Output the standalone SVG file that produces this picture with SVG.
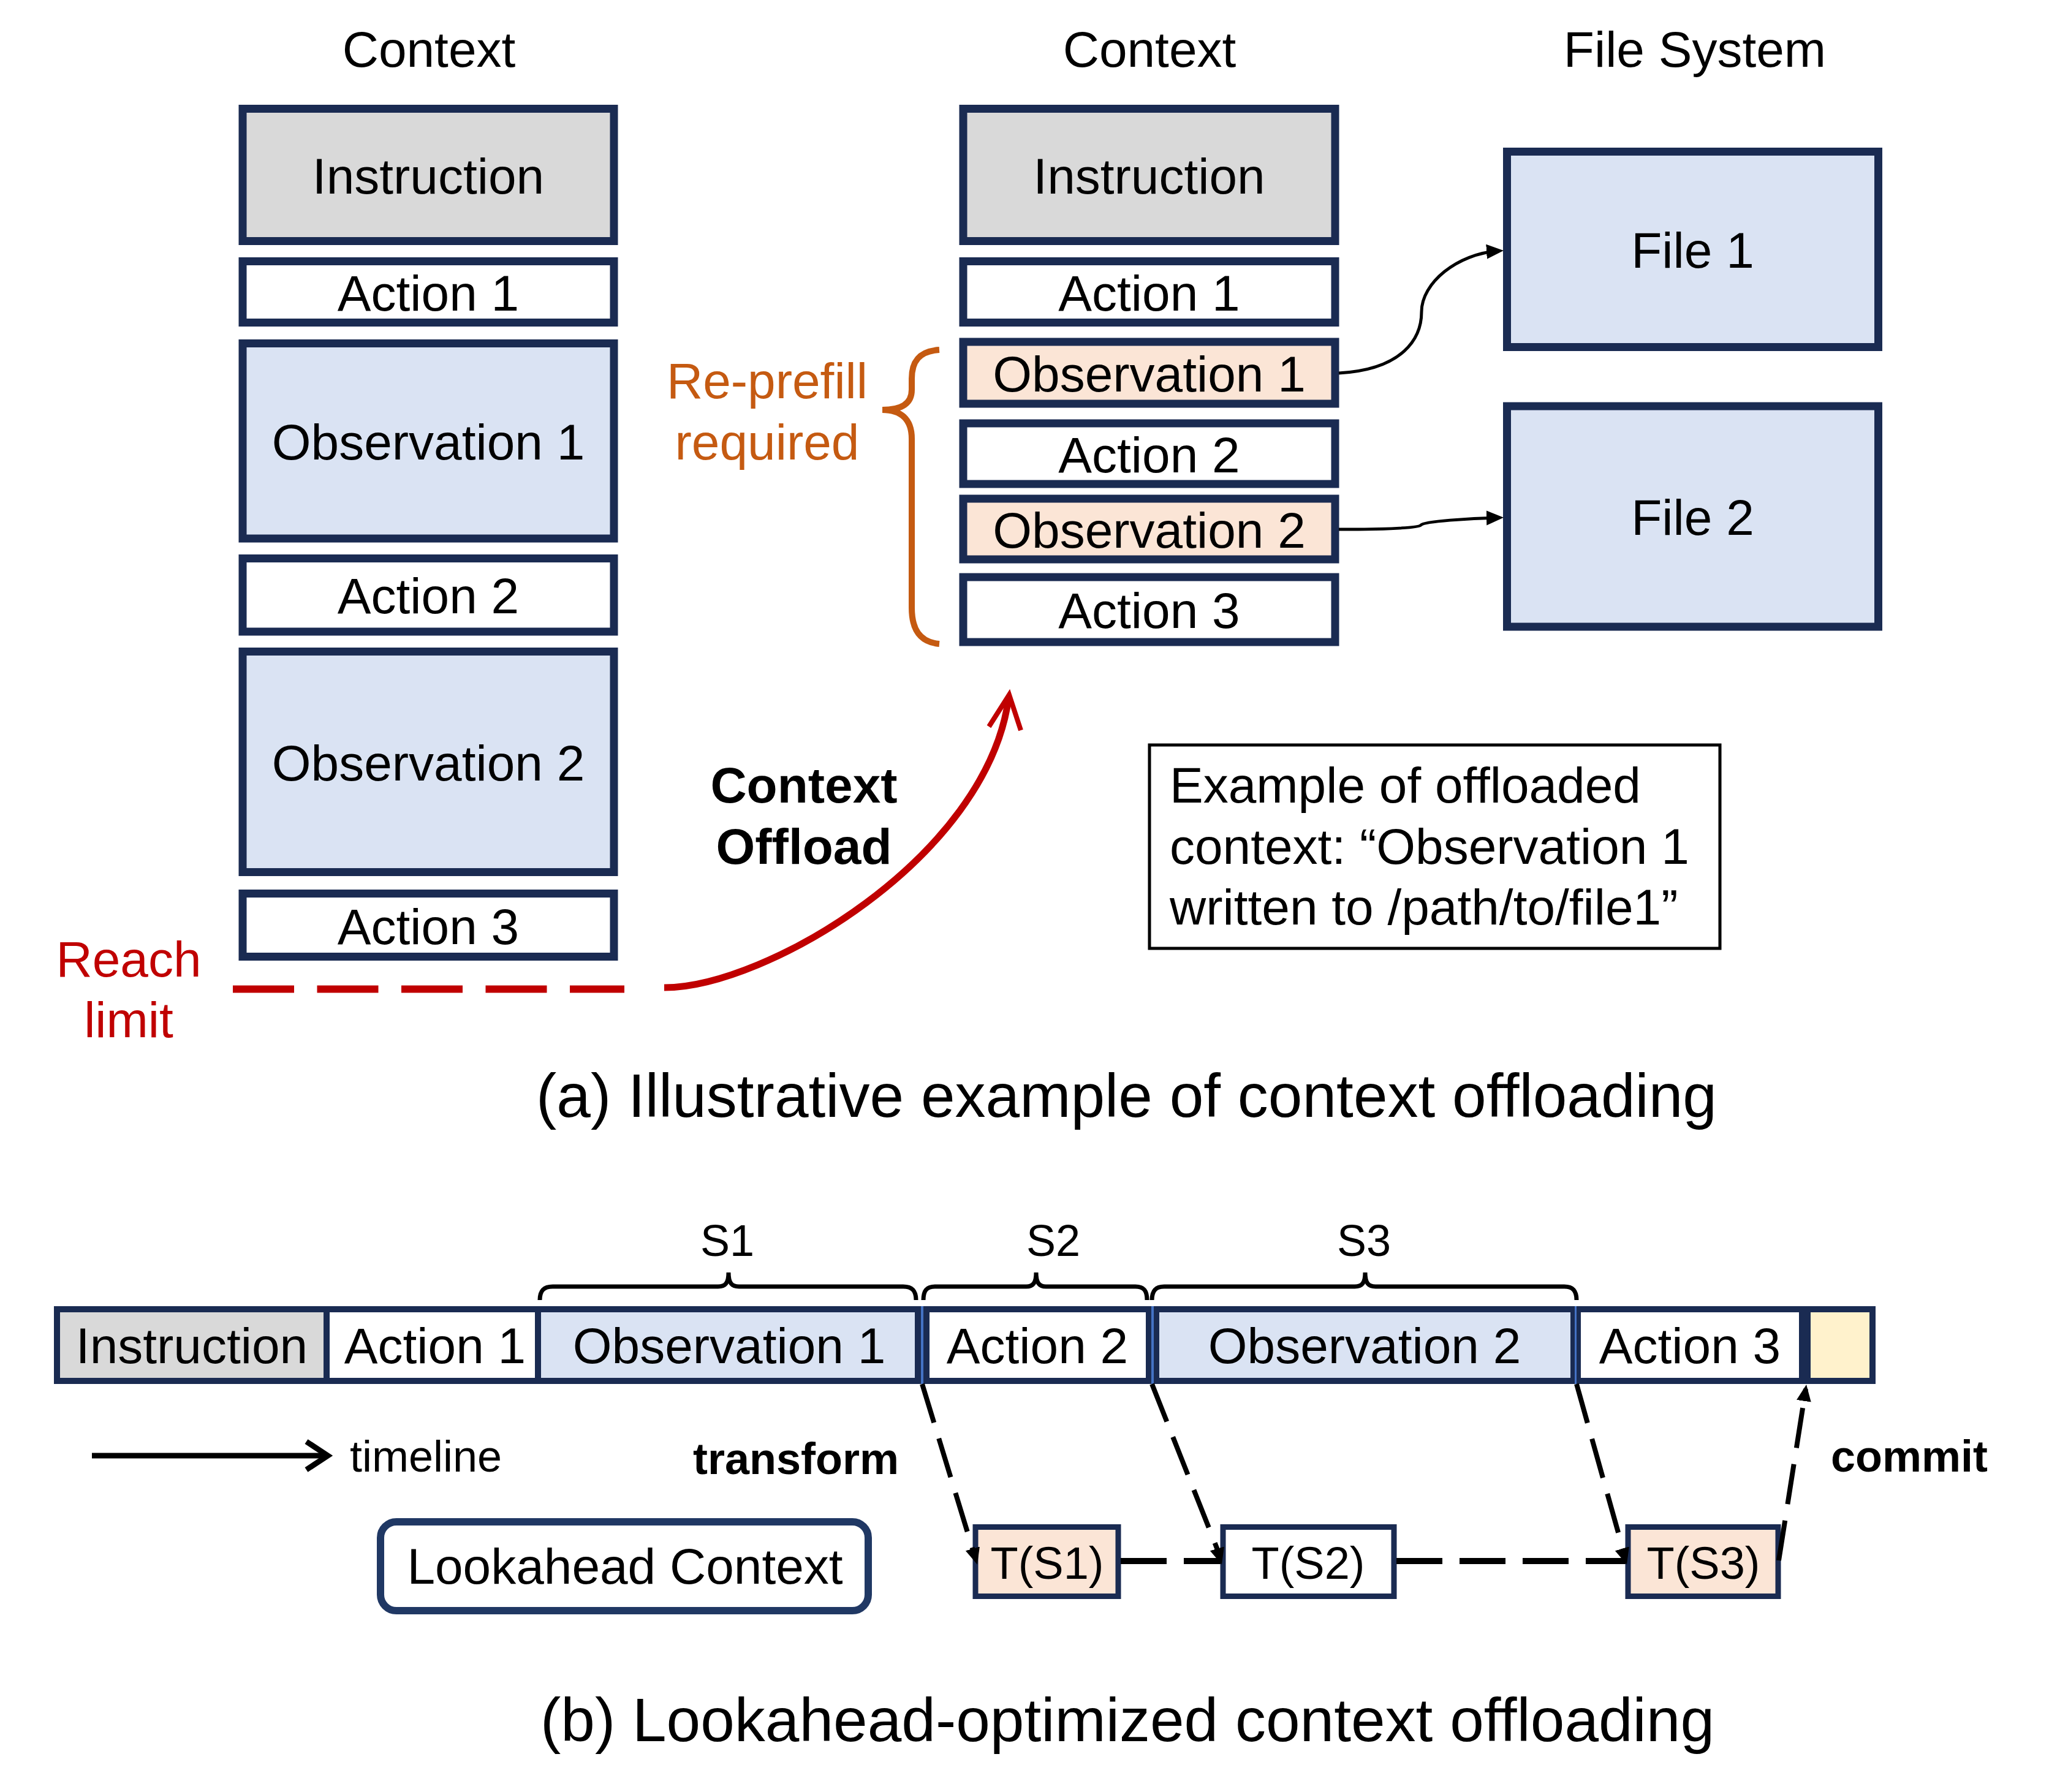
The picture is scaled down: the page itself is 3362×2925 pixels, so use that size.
<svg xmlns="http://www.w3.org/2000/svg" width="3362" height="2925" viewBox="0 0 3362 2925">
<style>
text{font-family:"Liberation Sans",Arial,sans-serif;fill:#000}
.t82{font-size:82px;text-anchor:middle}
.t74{font-size:74px;text-anchor:middle}
.box{stroke:#1A2B52;stroke-width:13}
.bar{stroke:#1A2B52;stroke-width:10}
.gray{fill:#D9D9D9}.white{fill:#FFFFFF}.blue{fill:#DAE3F3}.peach{fill:#FBE5D6}.yellow{fill:#FFF2CC}
.brace{fill:none;stroke:#000;stroke-width:7}
.dash{fill:none;stroke:#000;stroke-width:8;stroke-dasharray:66 27}
.hdash{fill:none;stroke:#000;stroke-width:10;stroke-dasharray:75 28}
</style>
<defs>
<marker id="ah" markerUnits="userSpaceOnUse" markerWidth="30" markerHeight="26" refX="20" refY="12" orient="auto">
<path d="M0,0 L28,12 L0,24 z" fill="#000"/>
</marker>
<marker id="ahs" markerUnits="userSpaceOnUse" markerWidth="30" markerHeight="26" refX="20" refY="12" orient="auto">
<path d="M0,0 L27,12 L0,24 z" fill="#000"/>
</marker>
</defs>
<rect width="3362" height="2925" fill="#FFFFFF"/>

<g id="titles">
<text class="t82" x="700" y="109">Context</text>
<text class="t82" x="1876" y="109">Context</text>
<text class="t82" x="2766" y="109">File System</text>
</g>

<g id="left-context">
<g id="l-instruction"><rect class="box gray" x="396" y="177.5" width="606" height="216"/><text class="t82" x="699" y="316">Instruction</text></g>
<g id="l-action1"><rect class="box white" x="396" y="426.5" width="606" height="100"/><text class="t82" x="699" y="507">Action 1</text></g>
<g id="l-obs1"><rect class="box blue" x="396" y="560.5" width="606" height="318.5"/><text class="t82" x="699" y="750">Observation 1</text></g>
<g id="l-action2"><rect class="box white" x="396" y="911.5" width="606" height="119.5"/><text class="t82" x="699" y="1001">Action 2</text></g>
<g id="l-obs2"><rect class="box blue" x="396" y="1063.5" width="606" height="360"/><text class="t82" x="699" y="1274">Observation 2</text></g>
<g id="l-action3"><rect class="box white" x="396" y="1458.5" width="606" height="103"/><text class="t82" x="699" y="1541">Action 3</text></g>
</g>

<g id="right-context">
<g id="r-instruction"><rect class="box gray" x="1572" y="177.5" width="607" height="216"/><text class="t82" x="1875.5" y="316">Instruction</text></g>
<g id="r-action1"><rect class="box white" x="1572" y="426.5" width="607" height="100"/><text class="t82" x="1875.5" y="507">Action 1</text></g>
<g id="r-obs1"><rect class="box peach" x="1572" y="558" width="607" height="101"/><text class="t82" x="1875.5" y="639">Observation 1</text></g>
<g id="r-action2"><rect class="box white" x="1572" y="691" width="607" height="99"/><text class="t82" x="1875.5" y="771">Action 2</text></g>
<g id="r-obs2"><rect class="box peach" x="1572" y="814" width="607" height="99"/><text class="t82" x="1875.5" y="894">Observation 2</text></g>
<g id="r-action3"><rect class="box white" x="1572" y="942" width="607" height="106"/><text class="t82" x="1875.5" y="1025">Action 3</text></g>
</g>

<g id="file1"><rect class="box blue" x="2459.5" y="247.5" width="606" height="319"/><text class="t82" x="2762.5" y="437">File 1</text></g>
<g id="file2"><rect class="box blue" x="2459.5" y="663" width="606" height="360"/><text class="t82" x="2762.5" y="873">File 2</text></g>

<g id="reprefill">
<path d="M1533,571 C1500,573 1488,590 1488,618 L1488,636 C1488,660 1470,669 1440,669 C1470,669 1488,684 1488,716 L1488,992 C1488,1026 1500,1048 1533,1051" fill="none" stroke="#C55A11" stroke-width="10"/>
<text class="t82" x="1252" y="650" style="fill:#C55A11">Re-prefill</text>
<text class="t82" x="1252" y="750" style="fill:#C55A11">required</text>
</g>

<g id="reach-limit">
<text class="t82" x="210" y="1594" style="fill:#C00000">Reach</text>
<text class="t82" x="210" y="1693" style="fill:#C00000">limit</text>
</g>

<g id="offload-label">
<text class="t82" x="1312" y="1310" font-weight="bold">Context</text>
<text class="t82" x="1312" y="1410" font-weight="bold">Offload</text>
</g>

<g id="example-box">
<rect x="1876" y="1216" width="931" height="332" fill="#FFFFFF" stroke="#000" stroke-width="5"/>
<text x="1909" y="1310" font-size="82">Example of offloaded</text>
<text x="1909" y="1410" font-size="82">context: “Observation 1</text>
<text x="1909" y="1509" font-size="82">written to /path/to/file1”</text>
</g>

<text x="875" y="1823" font-size="100">(a) Illustrative example of context offloading</text>

<g id="bar">
<g id="b-instruction"><rect class="bar gray" x="93" y="2137" width="440" height="117"/><text class="t82" x="313" y="2225">Instruction</text></g>
<g id="b-action1"><rect class="bar white" x="533" y="2137" width="345" height="117"/><text class="t82" x="710" y="2225">Action 1</text></g>
<g id="b-obs1"><rect class="bar blue" x="878" y="2137" width="620" height="117"/><text class="t82" x="1190" y="2225">Observation 1</text></g>
<g id="b-action2"><rect class="bar white" x="1512" y="2137" width="363" height="117"/><text class="t82" x="1693" y="2225">Action 2</text></g>
<g id="b-obs2"><rect class="bar blue" x="1887" y="2137" width="681" height="117"/><text class="t82" x="2227" y="2225">Observation 2</text></g>
<g id="b-action3"><rect class="bar white" x="2575" y="2137" width="366" height="117"/><text class="t82" x="2758" y="2225">Action 3</text></g>
<g id="b-next"><rect class="bar yellow" x="2950" y="2137" width="106" height="117"/></g>
<line x1="1505" y1="2132" x2="1505" y2="2259" stroke="#4472C4" stroke-width="4"/>
<line x1="1881" y1="2132" x2="1881" y2="2259" stroke="#4472C4" stroke-width="4"/>
<line x1="2571.5" y1="2132" x2="2571.5" y2="2259" stroke="#4472C4" stroke-width="3"/>
</g>

<g id="braces">
<path class="brace" d="M881,2122 C881,2107 887,2100 902,2100 L1172,2100 C1184,2100 1189,2094 1189,2077 C1189,2094 1194,2100 1206,2100 L1474,2100 C1489,2100 1495,2107 1495,2122"/>
<path class="brace" d="M1507,2122 C1507,2107 1512,2100 1526,2100 L1675,2100 C1686,2100 1691,2094 1691,2077 C1691,2094 1696,2100 1707,2100 L1853,2100 C1867,2100 1872,2107 1872,2122"/>
<path class="brace" d="M1880,2122 C1880,2107 1886,2100 1900,2100 L2211,2100 C2223,2100 2228,2094 2228,2077 C2228,2094 2233,2100 2245,2100 L2553,2100 C2567,2100 2573,2107 2573,2122"/>
<text x="1187" y="2050" font-size="72" text-anchor="middle">S1</text>
<text x="1719" y="2050" font-size="72" text-anchor="middle">S2</text>
<text x="2226" y="2050" font-size="72" text-anchor="middle">S3</text>
</g>

<g id="timeline">
<line x1="150" y1="2376" x2="530" y2="2376" stroke="#000" stroke-width="9"/>
<polyline points="500,2353 535,2376 500,2399" fill="none" stroke="#000" stroke-width="9"/>
<text x="571" y="2402" font-size="72">timeline</text>
</g>

<text x="1131" y="2406" font-size="72" font-weight="bold">transform</text>
<text x="2988" y="2402" font-size="72" font-weight="bold">commit</text>

<g id="lookahead"><rect x="621" y="2484" width="796" height="145" rx="26" fill="#FFFFFF" stroke="#203864" stroke-width="12"/><text class="t82" x="1020" y="2585">Lookahead Context</text></g>

<g id="ts1"><rect class="bar peach" x="1592" y="2492.5" width="233" height="113" style="stroke-width:9"/><text class="t74" x="1709" y="2577">T(S1)</text></g>
<g id="ts2"><rect class="bar white" x="1996" y="2492.5" width="279" height="113" style="stroke-width:9"/><text class="t74" x="2135" y="2577">T(S2)</text></g>
<g id="ts3"><rect class="bar peach" x="2657" y="2492.5" width="245" height="113" style="stroke-width:9"/><text class="t74" x="2780" y="2577">T(S3)</text></g>

<g id="connectors">
<path d="M2185,609 C2290,603 2320,552 2320,509 C2320,462 2378,414 2446,409.5" fill="none" stroke="#000" stroke-width="5" marker-end="url(#ah)"/>
<path d="M2185,864 C2262,864 2316,862 2319,857 C2324,851 2398,846 2446,845" fill="none" stroke="#000" stroke-width="5" marker-end="url(#ah)"/>
<line x1="380" y1="1614.5" x2="1019" y2="1614.5" stroke="#C00000" stroke-width="12" stroke-dasharray="100 37.5"/>
<path d="M1084,1612 C1250,1612 1610,1400 1646,1140" fill="none" stroke="#C00000" stroke-width="11"/>
<polyline points="1614,1186 1647,1134 1666,1192" fill="none" stroke="#C00000" stroke-width="8" stroke-linejoin="miter"/>
<line class="dash" x1="1505" y1="2259" x2="1590" y2="2537"/>
<line class="dash" x1="1880" y1="2259" x2="1990" y2="2537"/>
<line class="dash" x1="2573" y1="2259" x2="2651" y2="2537"/>
<line class="dash" x1="2903" y1="2547" x2="2947" y2="2267" marker-end="url(#ahs)"/>
<path d="M1588,2530 L1593,2547" stroke="none" fill="none" marker-end="url(#ahs)"/>
<path d="M1987,2530 L1992,2547" stroke="none" fill="none" marker-end="url(#ahs)"/>
<path d="M2648,2530 L2653,2547" stroke="none" fill="none" marker-end="url(#ahs)"/>
<line class="hdash" x1="1829" y1="2548" x2="1992" y2="2548"/>
<line class="hdash" x1="2279" y1="2548" x2="2653" y2="2548"/>
</g>

<text x="882" y="2842" font-size="100">(b) Lookahead-optimized context offloading</text>
</svg>
